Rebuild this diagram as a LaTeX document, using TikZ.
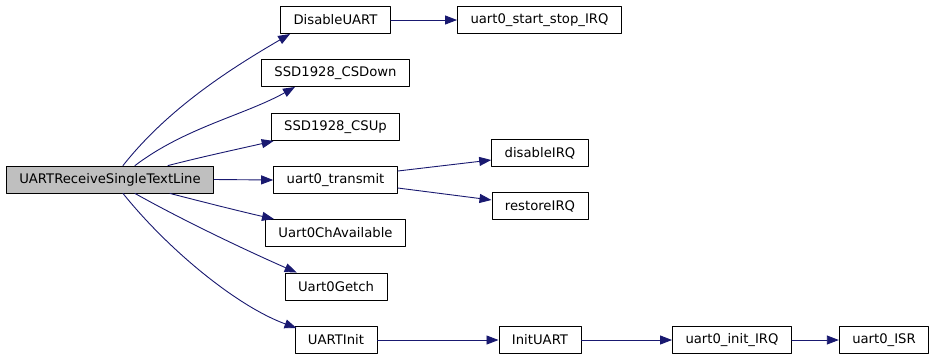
\documentclass[tikz,border=0pt]{standalone}
\usepackage{fontspec}
\setmainfont{DejaVu Sans}
\usepackage{tikz}
\usetikzlibrary{arrows.meta}
\definecolor{edgeblue}{RGB}{25,25,112}
\definecolor{boxgray}{RGB}{191,191,191}
\tikzset{
  fnbox/.style={draw=black, line width=.9pt, fill=white, minimum height=27pt,
    inner xsep=13pt, inner ysep=0pt, font=\fontsize{13.2}{15}\selectfont},
  callarrow/.style={edgeblue, line width=.9pt,
    -{Triangle[length=12pt,width=9pt]}},
}

\begin{document}
\begin{tikzpicture}[x=1pt, y=1pt, line cap=round, line join=round]
  \useasboundingbox (0,0) rectangle (933,-360);

  % Function boxes, one column per call depth.
  \node[fnbox, fill=boxgray] (main) at (110,-179.5) {UARTReceiveSingleTextLine};

  \node[fnbox] (disable)   at (335.5,-20)  {DisableUART};
  \node[fnbox] (csdown)    at (335.5,-73)  {SSD1928\_CSDown};
  \node[fnbox] (csup)      at (335.5,-127) {SSD1928\_CSUp};
  \node[fnbox] (transmit)  at (335.5,-180) {uart0\_transmit};
  \node[fnbox] (avail)     at (335.5,-233) {Uart0ChAvailable};
  \node[fnbox] (getch)     at (336,-286.5) {Uart0Getch};
  \node[fnbox] (uartinit)  at (336,-340)   {UARTInit};

  \node[fnbox] (startstop)  at (539.5,-20) {uart0\_start\_stop\_IRQ};
  \node[fnbox] (disableirq) at (540,-153)  {disableIRQ};
  \node[fnbox] (restoreirq) at (540,-206)  {restoreIRQ};
  \node[fnbox] (inituart)   at (540,-340)  {InitUART};

  \node[fnbox] (initirq) at (732,-340) {uart0\_init\_IRQ};
  \node[fnbox] (isr)     at (884,-340) {uart0\_ISR};

  % Calls made by the root function.
  \draw[callarrow] ([xshift=13pt]main.north)
    .. controls +(45,57) and +(-60,-35) .. ([xshift=10pt]disable.south west);
  \draw[callarrow] ([xshift=25pt]main.north)
    .. controls +(50,38) and +(-50,-28) .. ([xshift=34pt]csdown.south west);
  \draw[callarrow] ([xshift=58pt]main.north)
    .. controls +(35,9) and +(-35,-8) .. ([xshift=3pt]csup.south west);
  \draw[callarrow] (main.east) -- (transmit.west);
  \draw[callarrow] ([xshift=60pt]main.south)
    .. controls +(35,-9) and +(-35,8) .. ([xshift=9pt]avail.north west);
  \draw[callarrow] ([xshift=25pt]main.south)
    .. controls +(50,-28) and +(-50,22) .. ([xshift=12pt]getch.north west);
  \draw[callarrow] ([xshift=13pt]main.south)
    .. controls +(45,-56) and +(-60,22) .. ([xshift=2pt,yshift=-2pt]uartinit.north west);

  % Deeper calls.
  \draw[callarrow] (disable.east) -- (startstop.west);
  \draw[callarrow] ([yshift=9pt]transmit.east) -- ([yshift=-7pt]disableirq.west);
  \draw[callarrow] ([yshift=-8pt]transmit.east) -- ([yshift=6pt]restoreirq.west);
  \draw[callarrow] (uartinit.east) -- (inituart.west);
  \draw[callarrow] (inituart.east) -- (initirq.west);
  \draw[callarrow] (initirq.east) -- (isr.west);
\end{tikzpicture}
\end{document}
